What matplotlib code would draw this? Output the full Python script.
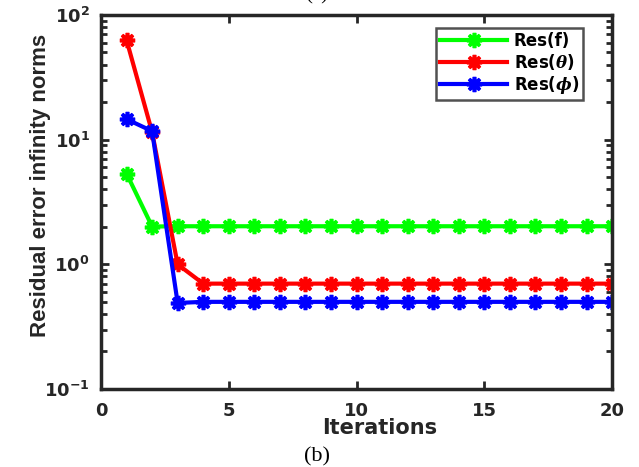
import matplotlib
matplotlib.use("Agg")
import matplotlib.pyplot as plt
from matplotlib.ticker import LogLocator, NullFormatter

# residual infinity norms per iteration
iterations = list(range(1, 21))
res_f = [5.35, 2.01] + [2.02] * 18
res_theta = [63.0, 11.5, 1.0] + [0.70] * 17
res_phi = [14.6, 11.7, 0.49] + [0.50] * 17

series = [
    ("Res(f)", res_f, (0, 1, 0)),
    (r"Res($\theta$)", res_theta, (1, 0, 0)),
    (r"Res($\phi$)", res_phi, (0, 0, 1)),
]

DARK = "#262626"

plt.rcParams["font.family"] = ["DejaVu Sans"]
plt.rcParams["font.weight"] = "bold"
plt.rcParams["axes.unicode_minus"] = False
plt.rcParams["mathtext.fontset"] = "custom"
plt.rcParams["mathtext.rm"] = "DejaVu Sans:bold"
plt.rcParams["mathtext.bf"] = "DejaVu Sans:bold"
plt.rcParams["mathtext.it"] = "DejaVu Serif:italic:bold"

fig = plt.figure(figsize=(6.39, 4.67), dpi=100)
ax = fig.add_axes([0.158, 0.167, 0.800, 0.801])

for label, vals, color in series:
    ax.plot(iterations, vals, color=color, lw=3, marker=(8, 2, 0),
            ms=11, mew=2.6, label=label)

ax.set_yscale("log")
ax.set_xlim(0, 20)
ax.set_ylim(0.1, 100)
ax.set_xticks([0, 5, 10, 15, 20])
ax.yaxis.set_major_locator(LogLocator(base=10, numticks=10))
ax.yaxis.set_minor_locator(LogLocator(base=10, subs=range(2, 10), numticks=10))
ax.yaxis.set_minor_formatter(NullFormatter())

ax.tick_params(which="both", direction="in", top=True, right=True,
               labelsize=13, color=DARK, width=2)
ax.tick_params(which="major", length=6)
ax.tick_params(which="minor", length=4)
ax.tick_params(axis="x", pad=9)
ax.tick_params(axis="y", pad=8)
for lab in ax.get_xticklabels() + ax.get_yticklabels():
    lab.set_fontweight("bold")
    lab.set_color(DARK)
for sp in ax.spines.values():
    sp.set_linewidth(2.5)
    sp.set_color(DARK)

ax.set_xlabel("Iterations", fontsize=15, fontweight="bold", color=DARK,
              va="center")
ax.xaxis.set_label_coords(0.546, -0.104)
ax.set_ylabel("Residual error infinity norms", fontsize=16, color=DARK,
              family="Liberation Sans", fontweight="bold", va="center")
ax.yaxis.set_label_coords(-0.119, 0.545)

leg = ax.legend(loc="upper right", fontsize=12, frameon=True, fancybox=False,
                handlelength=4.0, borderpad=0.25, labelspacing=0.12,
                handletextpad=0.4, borderaxespad=0.0,
                bbox_to_anchor=(0.943, 0.965))
leg.get_frame().set_edgecolor(DARK)
leg.get_frame().set_linewidth(1.8)
for t in leg.get_texts():
    t.set_fontweight("bold")

fig.text(0.496, 0.022, "(b)", family="Liberation Serif", fontsize=16,
         fontweight="normal", ha="center", va="center")
fig.text(0.495, 1.012, "(a)", family="Liberation Serif", fontsize=15,
         fontweight="normal", ha="center", va="center")

fig.savefig("out.png", dpi=100)
